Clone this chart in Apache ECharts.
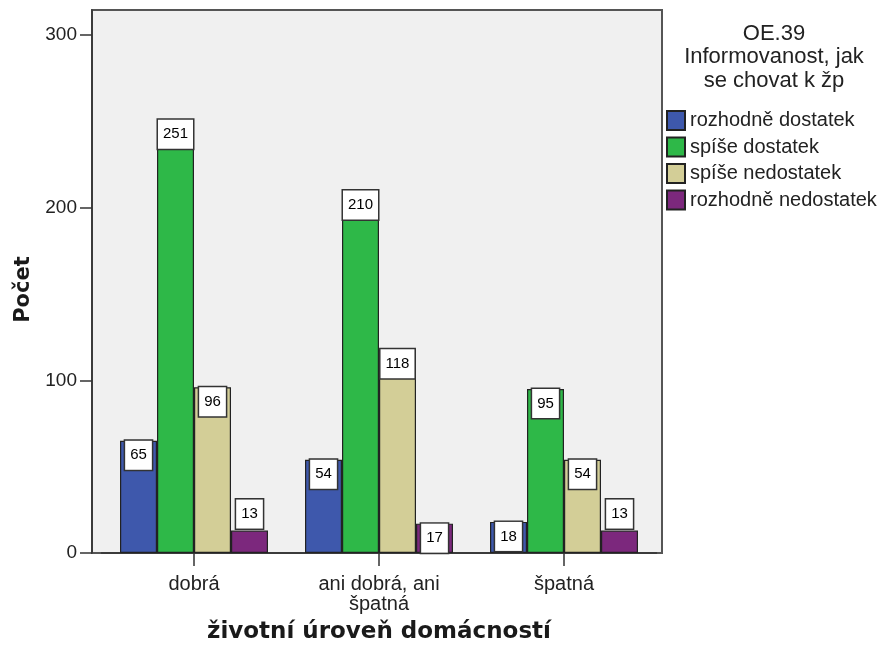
<!DOCTYPE html>
<html>
<head>
<meta charset="utf-8">
<script src="https://cdn.jsdelivr.net/npm/echarts@6/dist/echarts.min.js"></script>
<style>
  html, body { margin: 0; padding: 0; background: #ffffff; }
  #chart { width: 880px; height: 645px; }
</style>
</head>
<body>
<div id="chart"></div>
<script>
// Household living standard vs. awareness of environmental behaviour (counts)
const categories = ['dobrá', 'ani dobrá, ani\nšpatná', 'špatná'];
const seriesNames = ['rozhodně dostatek', 'spíše dostatek', 'spíše nedostatek', 'rozhodně nedostatek'];
const rozhodneDostatek = [65, 54, 18];
const spiseDostatek = [251, 210, 95];
const spiseNedostatek = [96, 118, 54];
const rozhodneNedostatek = [13, 17, 13];
const yTicks = [0, 100, 200, 300];
const legendTitle = 'OE.39\nInformovanost, jak\nse chovat k žp';
const xTitle = 'životní úroveň domácností';
const yTitle = 'Počet';

const palette = ['#3E58AC', '#2EB848', '#D3CE97', '#7C287D'];
const seriesValues = [rozhodneDostatek, spiseDostatek, spiseNedostatek, rozhodneNedostatek];

const chart = echarts.init(document.getElementById('chart'), null, { renderer: 'canvas' });

const labelBase = {
  show: true,
  position: 'insideTop',
  distance: 0,
  formatter: '{c}',
  fontFamily: '"Liberation Sans", Arial, sans-serif',
  fontSize: 15,
  lineHeight: 15,
  color: '#000',
  backgroundColor: '#ffffff',
  borderColor: '#333',
  borderWidth: 1.5,
  padding: [7, 5, 7, 5]
};

const series = seriesValues.map((vals, i) => ({
  name: seriesNames[i],
  type: 'bar',
  barGap: 0,
  barCategoryGap: '20%',
  itemStyle: { color: palette[i], borderColor: '#222', borderWidth: 1.2 },
  label: labelBase,
  // short bars carry their label box just above the bar
  data: vals.map(v => v < 16
    ? { value: v, label: { position: 'top', distance: 2 } }
    : v),
  emphasis: { disabled: true }
}));

chart.setOption({
  backgroundColor: '#ffffff',
  animation: false,
  textStyle: { fontFamily: '"Liberation Sans", Arial, sans-serif' },
  title: {
    text: legendTitle,
    left: 774,
    top: 22,
    padding: 0,
    textAlign: 'center',
    textStyle: {
      fontFamily: '"Liberation Sans", Arial, sans-serif',
      fontSize: 22,
      lineHeight: 23.5,
      fontWeight: 'normal',
      color: '#222'
    }
  },
  legend: {
    orient: 'vertical',
    left: 666,
    top: 110,
    padding: 0,
    itemWidth: 18,
    itemHeight: 19,
    itemGap: 5.5,
    icon: 'rect',
    selectedMode: false,
    data: seriesNames,
    textStyle: {
      fontFamily: '"Liberation Sans", Arial, sans-serif',
      fontSize: 20,
      color: '#222'
    }
  },
  graphic: {
    elements: [{
      type: 'rect',
      z: -10,
      silent: true,
      shape: { x: 92, y: 10, width: 570, height: 543 },
      style: { fill: '#f0f0f0', stroke: '#555', lineWidth: 2 }
    }]
  },
  grid: {
    left: 101.5,
    right: 223.5,
    top: 10,
    bottom: 92,
    containLabel: false,
    outerBoundsMode: 'none'
  },
  xAxis: {
    type: 'category',
    data: categories,
    name: xTitle,
    nameLocation: 'middle',
    nameGap: 68,
    nameTextStyle: {
      fontFamily: '"DejaVu Sans", sans-serif',
      fontWeight: 'bold',
      fontSize: 23,
      color: '#1a1a1a'
    },
    axisLine: { show: true, lineStyle: { color: '#333', width: 1.5 } },
    axisTick: { show: true, alignWithLabel: true, length: 13, lineStyle: { color: '#333', width: 1.5 } },
    axisLabel: {
      fontFamily: '"Liberation Sans", Arial, sans-serif',
      fontSize: 20,
      lineHeight: 20,
      margin: 21,
      color: '#222',
      align: 'center'
    },
    splitLine: { show: false }
  },
  yAxis: {
    type: 'value',
    min: 0,
    max: 314.5,
    interval: 100,
    offset: 9.5,
    name: yTitle,
    nameLocation: 'middle',
    nameRotate: 90,
    nameGap: 58,
    nameTextStyle: {
      fontFamily: '"DejaVu Sans", sans-serif',
      fontWeight: 'bold',
      fontSize: 21,
      color: '#1a1a1a',
      padding: [0, 16, 0, 0]
    },
    axisLine: { show: true, lineStyle: { color: '#333', width: 1.5 } },
    axisTick: { show: true, length: 12, customValues: yTicks, lineStyle: { color: '#333', width: 1.5 } },
    axisLabel: {
      customValues: yTicks,
      fontFamily: '"Liberation Sans", Arial, sans-serif',
      fontSize: 19,
      margin: 15,
      color: '#222'
    },
    splitLine: { show: false }
  },
  series: series
});
</script>
</body>
</html>
